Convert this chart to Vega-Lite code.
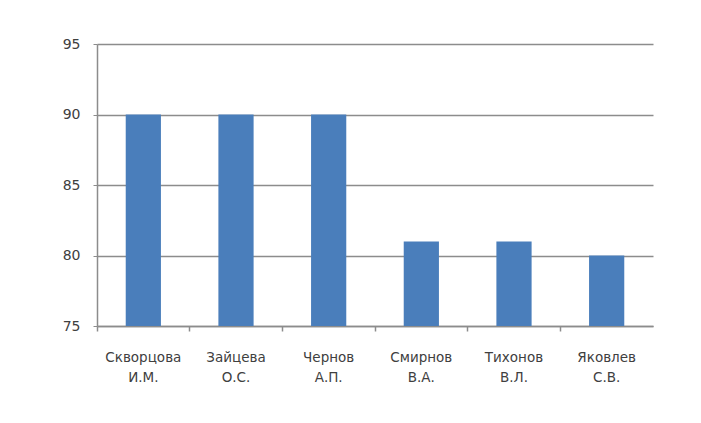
{
  "$schema": "https://vega.github.io/schema/vega-lite/v6.json",
  "width": 556,
  "height": 282,
  "autosize": {"type": "none"},
  "padding": {"left": 97, "top": 44, "right": 48, "bottom": 97},
  "background": "white",
  "config": {
    "view": {"stroke": null},
    "font": "DejaVu Sans"
  },
  "data": {
    "values": [
      {"name": "Скворцова И.М.", "value": 90},
      {"name": "Зайцева О.С.", "value": 90},
      {"name": "Чернов А.П.", "value": 90},
      {"name": "Смирнов В.А.", "value": 81},
      {"name": "Тихонов В.Л.", "value": 81},
      {"name": "Яковлев С.В.", "value": 80}
    ]
  },
  "layer": [
    {
      "mark": {"type": "bar", "color": "#4a7ebb", "clip": true},
      "encoding": {
        "x": {
          "field": "name", "type": "nominal", "sort": null,
          "scale": {"paddingInner": 0.62, "paddingOuter": 0.31},
          "axis": {
            "title": null, "labelAngle": 0, "ticks": false, "domain": false,
            "orient": "bottom",
            "labelExpr": "split(datum.label, ' ')",
            "labelFont": "DejaVu Sans", "labelFontSize": 13.5, "labelColor": "#404040",
            "labelLineHeight": 20, "labelPadding": 24, "labelAlign": "center"
          }
        },
        "y": {
          "field": "value", "type": "quantitative",
          "scale": {"domain": [75, 95], "nice": false, "zero": false},
          "axis": {
            "title": null, "values": [75, 80, 85, 90, 95],
            "grid": true, "gridColor": "#8c8c8c", "gridWidth": 1.5,
            "domainColor": "#8c8c8c", "domainWidth": 1.5,
            "tickColor": "#8c8c8c", "tickSize": 4,
            "labelFont": "DejaVu Sans", "labelFontSize": 14, "labelColor": "#404040",
            "labelPadding": 13
          }
        }
      }
    },
    {
      "mark": {"type": "bar", "opacity": 0},
      "encoding": {
        "x": {
          "field": "name", "type": "nominal", "sort": null,
          "scale": {"paddingInner": 0, "paddingOuter": 0},
          "axis": {
            "title": null, "labels": false, "bandPosition": 0, "orient": "bottom",
            "domainColor": "#8c8c8c", "domainWidth": 1.5,
            "tickColor": "#8c8c8c", "tickSize": 5, "tickWidth": 1.5
          }
        },
        "y": {"field": "value", "type": "quantitative"}
      }
    }
  ],
  "resolve": {"axis": {"x": "independent"}, "scale": {"x": "independent"}}
}
